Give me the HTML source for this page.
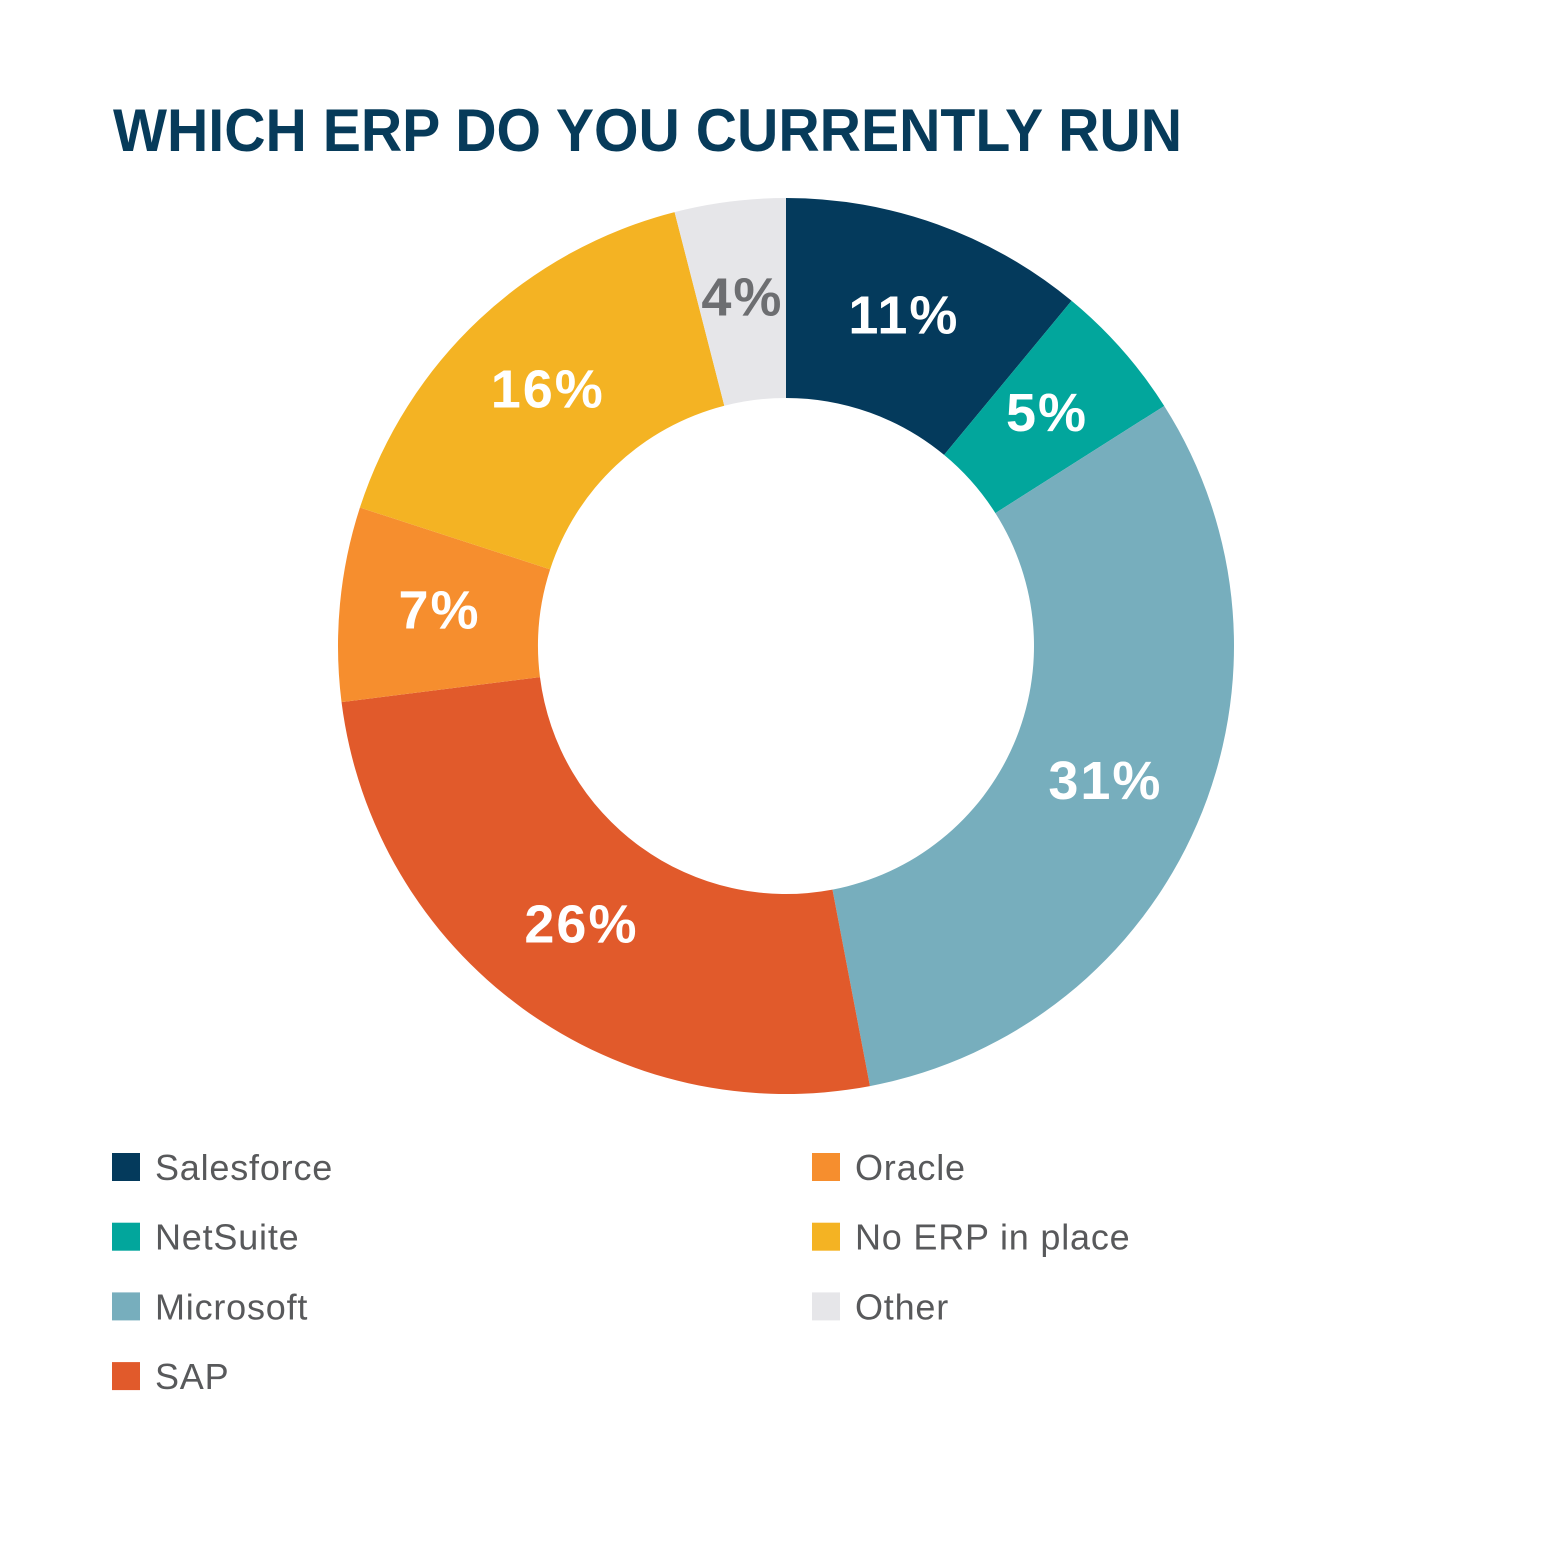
<!DOCTYPE html>
<html><head><meta charset="utf-8"><style>
body{margin:0;background:#fff;}
svg{display:block;}
</style></head><body>
<svg width="1568" height="1568" viewBox="0 0 1568 1568">
<text x="113" y="151" font-family="Liberation Sans, sans-serif" font-weight="bold" font-size="60" fill="#073b5a" textLength="1069" lengthAdjust="spacingAndGlyphs">WHICH ERP DO YOU CURRENTLY RUN</text>
<g id="slices"></g>
<g id="labels"></g>
<g id="legend"></g>
</svg>
<script>
const categories = ["Salesforce","NetSuite","Microsoft","SAP","Oracle","No ERP in place","Other"];
const values = [11,5,31,26,7,16,4];
const colors = ["#043a5c","#02a69c","#77aebd","#e15a2b","#f68e2e","#f4b323","#e6e6e9"];
const labelColors = ["#fff","#fff","#fff","#fff","#fff","#fff","#6d6e71"];
const legendCol = [0,0,0,0,1,1,1];
const legendRow = [0,1,2,3,0,1,2];
const NS="http://www.w3.org/2000/svg";
const cx=786, cy=646, R=448, r=248, LR=348;
const total=values.reduce((a,b)=>a+b,0);
function pt(a,rad){return [cx+rad*Math.sin(a), cy-rad*Math.cos(a)];}
let acc=0;
const gs=document.getElementById('slices'), gl=document.getElementById('labels'), gg=document.getElementById('legend');
values.forEach((v,i)=>{
  const a0=acc/total*2*Math.PI, a1=(acc+v)/total*2*Math.PI; acc+=v;
  const large=(a1-a0)>Math.PI?1:0;
  const [x0,y0]=pt(a0,R),[x1,y1]=pt(a1,R),[x2,y2]=pt(a1,r),[x3,y3]=pt(a0,r);
  const p=document.createElementNS(NS,'path');
  p.setAttribute('d',`M${x0},${y0}A${R},${R} 0 ${large} 1 ${x1},${y1}L${x2},${y2}A${r},${r} 0 ${large} 0 ${x3},${y3}Z`);
  p.setAttribute('fill',colors[i]);
  
  
  gs.appendChild(p);
  const am=(a0+a1)/2; const [lx,ly]=pt(am,LR);
  const t=document.createElementNS(NS,'text');
  t.setAttribute('x',lx); t.setAttribute('y',ly+15);
  t.setAttribute('text-anchor','middle');
  t.setAttribute('font-family','Liberation Sans, sans-serif');
  t.setAttribute('font-weight','bold'); t.setAttribute('font-size','54');
  t.setAttribute('letter-spacing','2');
  t.setAttribute('fill',labelColors[i]);
  t.textContent=v+'%';
  
  
  gl.appendChild(t);
  const bx=112+legendCol[i]*700, by=1153+legendRow[i]*69.7;
  const sq=document.createElementNS(NS,'rect');
  sq.setAttribute('x',bx); sq.setAttribute('y',by); sq.setAttribute('width',28); sq.setAttribute('height',28);
  sq.setAttribute('fill',colors[i]);
  
  
  gg.appendChild(sq);
  const lt=document.createElementNS(NS,'text');
  lt.setAttribute('x',bx+43); lt.setAttribute('y',by+27);
  lt.setAttribute('font-family','Liberation Sans, sans-serif');
  lt.setAttribute('font-size','36'); lt.setAttribute('fill','#58595b');
  lt.setAttribute('letter-spacing','0.8');
  lt.textContent=categories[i];
  
  
  gg.appendChild(lt);
});
</script>
</body></html>
